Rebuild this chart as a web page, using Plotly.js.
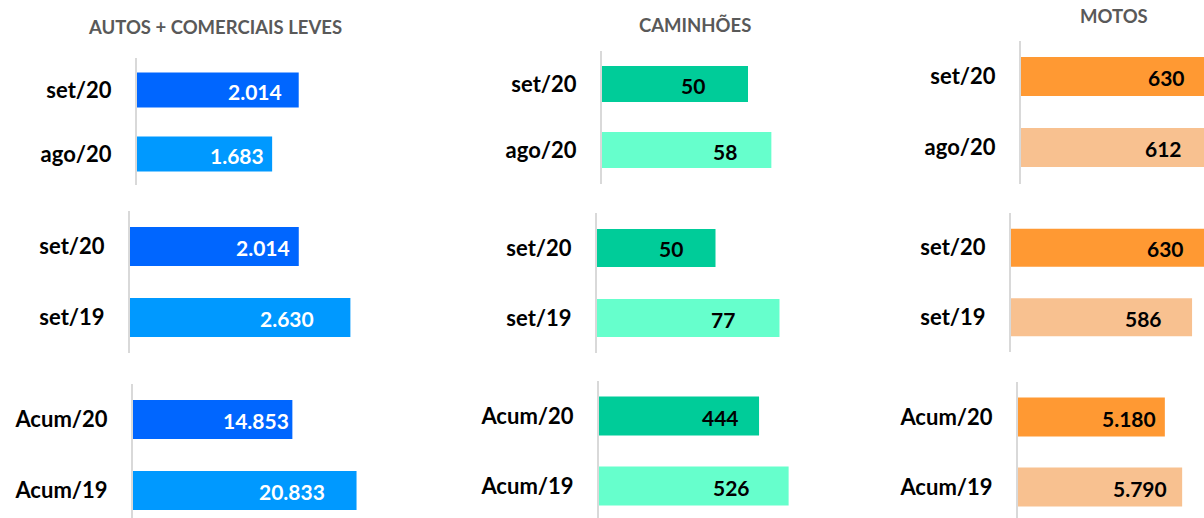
<!DOCTYPE html>
<html><head><meta charset="utf-8">
<script src="https://cdn.plot.ly/plotly-3.0.1.min.js"></script>
<style>html,body{margin:0;padding:0;overflow:hidden;background:#fff}</style>
</head><body><div id="chart"></div>
<script>
// ---- data ----
const groupTitles = ["AUTOS + COMERCIAIS LEVES", "CAMINHÕES", "MOTOS"];
const catsMonth = ["set/20", "ago/20"];
const catsYear = ["set/20", "set/19"];
const catsAcum = ["Acum/20", "Acum/19"];
const autosMonth = [2014, 1683];
const autosYear = [2014, 2630];
const autosAcum = [14853, 20833];
const caminhoesMonth = [50, 58];
const caminhoesYear = [50, 77];
const caminhoesAcum = [444, 526];
const motosMonth = [630, 612];
const motosYear = [630, 586];
const motosAcum = [5180, 5790];

// ---- styles / geometry (pixels) ----
const W = 1230, H = 518;
const FONT = "Lato, 'Open Sans', sans-serif";
const autosColors = ["#0066FF", "#0099FF"];
const caminhoesColors = ["#00CC99", "#66FFCC"];
const motosColors = ["#FF9933", "#F8C190"];

const panels = [
  {cats: catsMonth, values: autosMonth, colors: autosColors, tc: "#FFFFFF", ax: 137, top: 58, bot: 185, pitch: 64, barh: 35, scale: 0.0803, right: 380, shift: [-15, -6]},
  {cats: catsYear, values: autosYear, colors: autosColors, tc: "#FFFFFF", ax: 130, top: 211, bot: 353, pitch: 71, barh: 39, scale: 0.0838, right: 380, shift: [-7, -34]},
  {cats: catsAcum, values: autosAcum, colors: autosColors, tc: "#FFFFFF", ax: 133, top: 384, bot: 518, pitch: 71, barh: 39, scale: 0.01073, right: 380, shift: [-1, -30]},
  {cats: catsMonth, values: caminhoesMonth, colors: caminhoesColors, tc: "#000000", ax: 602, top: 51, bot: 184, pitch: 66, barh: 36, scale: 2.92, right: 840, shift: [-41, -32]},
  {cats: catsYear, values: caminhoesYear, colors: caminhoesColors, tc: "#000000", ax: 597, top: 213, bot: 353, pitch: 70, barh: 38, scale: 2.37, right: 840, shift: [-31, -42]},
  {cats: catsAcum, values: caminhoesAcum, colors: caminhoesColors, tc: "#000000", ax: 599, top: 381, bot: 518, pitch: 70, barh: 39, scale: 0.3605, right: 840, shift: [-18, -37]},
  {cats: catsMonth, values: motosMonth, colors: motosColors, tc: "#000000", ax: 1021, top: 41, bot: 184, pitch: 71, barh: 39, scale: 0.31, right: 1228, shift: [-29, -27]},
  {cats: catsYear, values: motosYear, colors: motosColors, tc: "#000000", ax: 1011, top: 213, bot: 352, pitch: 69.5, barh: 38, scale: 0.309, right: 1228, shift: [-20, -28]},
  {cats: catsAcum, values: motosAcum, colors: motosColors, tc: "#000000", ax: 1018, top: 382, bot: 518, pitch: 70, barh: 39, scale: 0.02835, right: 1228, shift: [-7, -13]}
];
const titlePos = [{x: 215, y: 27}, {x: 695, y: 25}, {x: 1114, y: 16}];

function fmt(v) { return String(v).replace(/\B(?=(\d{3})+(?!\d))/g, "."); }

const traces = [];
const layout = {
  width: W, height: H,
  margin: {l: 0, r: 0, t: 0, b: 0},
  paper_bgcolor: "#FFFFFF", plot_bgcolor: "rgba(0,0,0,0)",
  showlegend: false,
  font: {family: FONT},
  annotations: []
};

panels.forEach((p, i) => {
  const n = i + 1;
  const sfx = n === 1 ? "" : String(n);
  const xr = "x" + sfx, yr = "y" + sfx;
  traces.push({
    type: "bar", orientation: "h",
    x: p.values, y: p.cats,
    xaxis: xr, yaxis: yr,
    width: p.barh / p.pitch,
    marker: {color: p.colors, line: {width: 0}},
    hoverinfo: "skip"
  });
  layout["xaxis" + sfx] = {
    domain: [p.ax / W, p.right / W],
    range: [0, (p.right - p.ax) / p.scale],
    anchor: yr,
    showgrid: false, zeroline: false, showline: false,
    showticklabels: false, ticks: "", fixedrange: true
  };
  layout["yaxis" + sfx] = {
    domain: [1 - p.bot / H, 1 - p.top / H],
    type: "category",
    categoryorder: "array", categoryarray: p.cats,
    range: [-0.5 + (p.bot - p.top) / p.pitch, -0.5],
    anchor: xr,
    showgrid: false, zeroline: false,
    showline: true, linecolor: "#D9D9D9", linewidth: 2,
    ticks: "", ticklabelstandoff: 19,
    tickfont: {family: FONT, size: 22, color: "#000000", weight: 700},
    fixedrange: true
  };
  p.values.forEach((v, j) => {
    layout.annotations.push({
      xref: xr, yref: yr, x: v, y: j,
      text: fmt(v), showarrow: false,
      xanchor: "right", yanchor: "middle", xshift: p.shift[j], yshift: -1,
      font: {family: FONT, size: 21, color: p.tc, weight: 700}
    });
  });
});

groupTitles.forEach((t, k) => {
  layout.annotations.push({
    xref: "paper", yref: "paper",
    x: titlePos[k].x / W, y: 1 - titlePos[k].y / H,
    text: t, showarrow: false, xanchor: "center", yanchor: "middle",
    font: {family: FONT, size: 18.5, color: "#595959", weight: 700}
  });
});

Plotly.newPlot("chart", traces, layout, {displayModeBar: false, staticPlot: true});
</script>
</body></html>
